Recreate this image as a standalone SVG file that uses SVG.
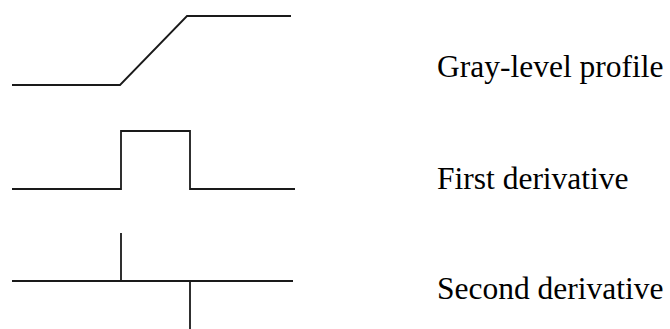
<svg xmlns="http://www.w3.org/2000/svg" width="670" height="329" viewBox="0 0 670 329">
<style>
.p{fill:none;stroke:#1a1a1a;stroke-width:1.8;stroke-linejoin:miter}
.t{font-family:"Liberation Serif","Times New Roman",serif;font-size:31.5px;fill:#000}
</style>
<rect width="670" height="329" fill="#fff"/>
<g id="profile">
<path class="p" d="M12,85 H120 L187,16 H291"/>
<text class="t" x="437" y="77">Gray-level profile</text>
</g>
<g id="first">
<path class="p" d="M12,189 H121 V131 H190 V189 H295"/>
<text class="t" x="437" y="189">First derivative</text>
</g>
<g id="second">
<path class="p" d="M12,281 H293 M121,233 V281 M190,281 V329"/>
<text class="t" x="437" y="299">Second derivative</text>
</g>
</svg>
